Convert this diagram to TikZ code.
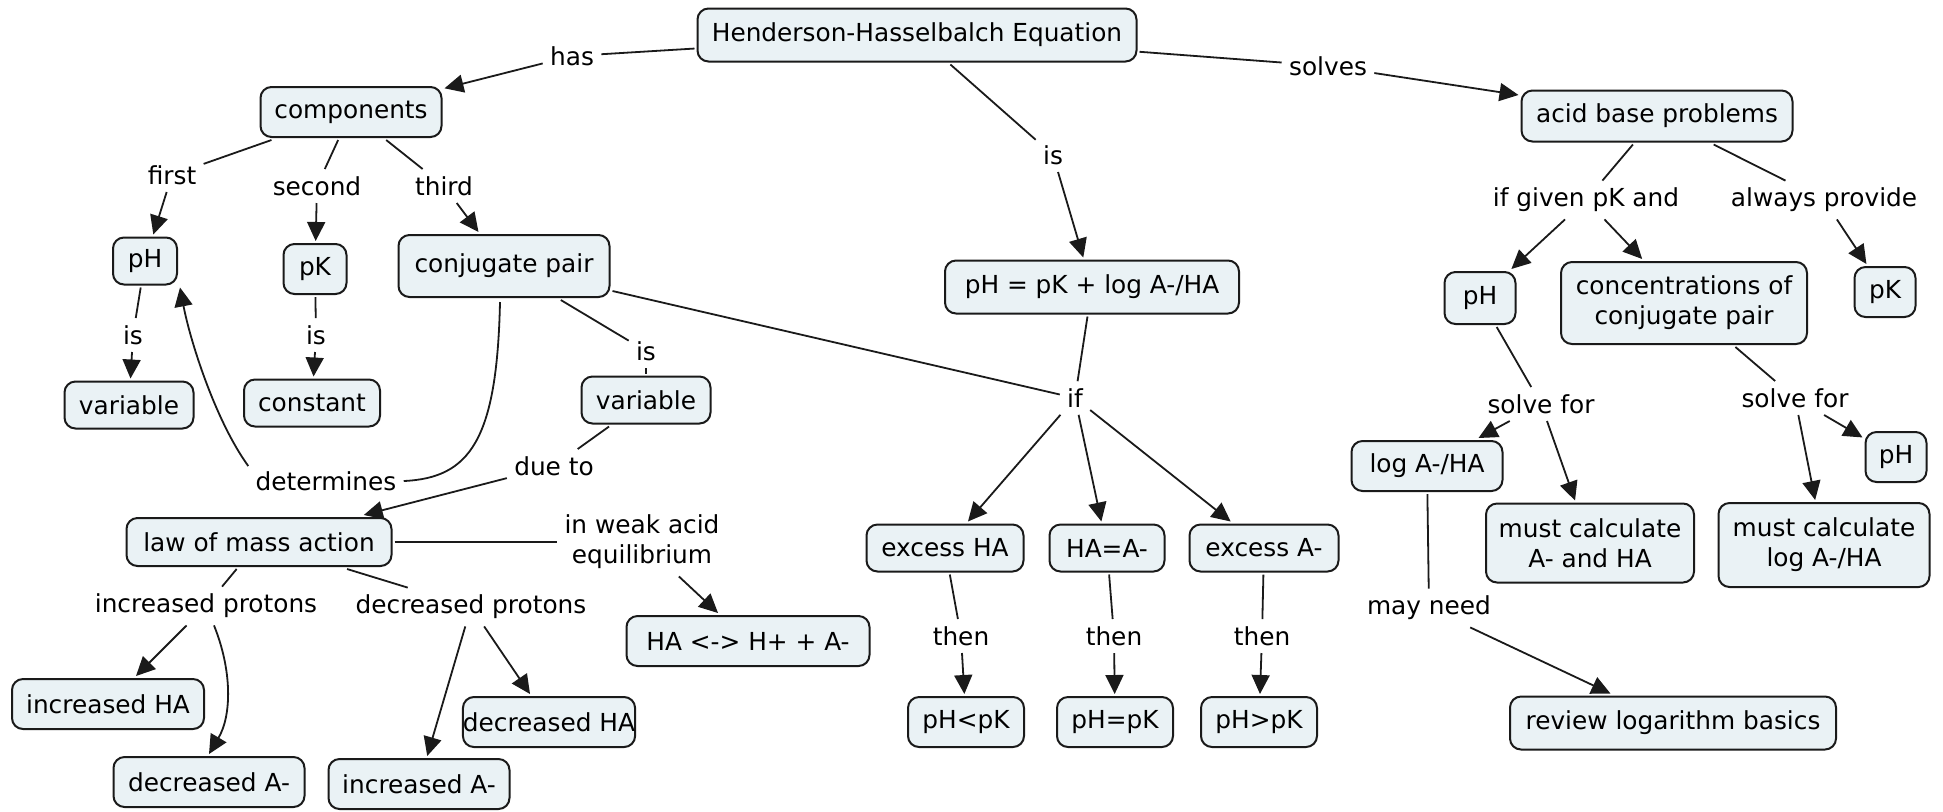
\documentclass[tikz,border=0pt]{standalone}
\usepackage{fontspec}
\setmainfont{DejaVu Sans}
\usetikzlibrary{arrows.meta}
\definecolor{cfill}{HTML}{EAF2F5}
\definecolor{cline}{HTML}{1A1A1A}
\newcommand\hhfont{\fontsize{12.4}{15}\selectfont}
\tikzset{
  concept/.style 2 args={draw=cline, line width=1pt, rounded corners=5.5pt, fill=cfill,
    inner sep=0pt, outer sep=1.5pt, align=center, font=\hhfont,
    minimum width=#1*0.5pt, minimum height=#2*0.5pt},
  lbl/.style={inner sep=3.5pt, align=center, font=\hhfont},
  ln/.style={draw=cline, line width=0.9pt},
  arr/.style={draw=cline, line width=0.9pt, -{Triangle[length=9.5pt,width=9pt]}},
}
\begin{document}
\begin{tikzpicture}[x=0.5pt,y=-0.5pt]
\useasboundingbox[fill=white] (0,0) rectangle (1943,811);
% concepts
\node[concept={439}{53}] (HH) at (917,35) {Henderson-Hasselbalch Equation};
\node[concept={181}{50}] (comp) at (351,112) {components};
\node[concept={64}{47}] (pH1) at (145,261) {pH};
\node[concept={63}{50}] (pK1) at (315,269) {pK};
\node[concept={211}{62}] (conj) at (504,266) {conjugate pair};
\node[concept={129}{47}] (var1) at (129,405) {variable};
\node[concept={136}{47}] (const) at (312,403) {constant};
\node[concept={129}{47}] (var2) at (646,400) {variable};
\node[concept={265}{48}] (law) at (259,542) {law of mass action};
\node[concept={192}{50}] (incHA) at (108,704) {increased HA};
\node[concept={191}{50}] (decA) at (209,782) {decreased A-};
\node[concept={181}{50}] (incA) at (419,784) {increased A-};
\node[concept={169}{50}] (decHA) at (549,722) {decreased HA};
\node[concept={243}{50}] (HAeq) at (748,641) {HA <-> H+ + A-};
\node[concept={294}{53}] (eq) at (1092,287) {pH = pK + log A-/HA};
\node[concept={157}{47}] (exHA) at (945,548) {excess HA};
\node[concept={115}{47}] (HAA) at (1107,548) {HA=A-};
\node[concept={149}{47}] (exA) at (1264,548) {excess A-};
\node[concept={116}{50}] (ltpK) at (966,722) {pH<pK};
\node[concept={116}{50}] (eqpK) at (1115,722) {pH=pK};
\node[concept={116}{50}] (gtpK) at (1259,722) {pH>pK};
\node[concept={271}{51}] (acid) at (1657,116) {acid base problems};
\node[concept={71}{52}] (pH2) at (1480,298) {pH};
\node[concept={246}{82}] (conc) at (1684,303) {concentrations of\\conjugate pair};
\node[concept={61}{50}] (pK2) at (1885,292) {pK};
\node[concept={151}{50}] (logA) at (1427,466) {log A-/HA};
\node[concept={61}{50}] (pH3) at (1896,457) {pH};
\node[concept={208}{79}] (mcA) at (1590,543) {must calculate\\A- and HA};
\node[concept={211}{84}] (mcL) at (1824,545) {must calculate\\log A-/HA};
\node[concept={326}{53}] (review) at (1673,723) {review logarithm basics};
% linking phrases
\node[lbl] (has) at (572,56) {has};
\node[lbl] (solves) at (1328,66) {solves};
\node[lbl] (isEq) at (1053,155) {is};
\node[lbl] (first) at (172,175) {first};
\node[lbl] (second) at (317,186) {second};
\node[lbl] (third) at (444,186) {third};
\node[lbl] (is1) at (133,335) {is};
\node[lbl] (is2) at (316,335) {is};
\node[lbl] (is3) at (646,351) {is};
\node[lbl] (det) at (326,481) {determines};
\node[lbl] (dueto) at (554,466) {due to};
\node[lbl] (weak) at (642,542) {in weak acid\\equilibrium};
\node[lbl] (incp) at (206,606) {increased protons};
\node[lbl] (decp) at (471,607) {decreased protons};
\node[lbl] (if) at (1075,398) {if};
\node[lbl] (then1) at (961,636) {then};
\node[lbl] (then2) at (1114,636) {then};
\node[lbl] (then3) at (1262,636) {then};
\node[lbl] (ifgiven) at (1586,200) {if given pK and};
\node[lbl] (always) at (1824,200) {always provide};
\node[lbl] (solveL) at (1541,404) {solve for};
\node[lbl] (solveR) at (1795,398) {solve for};
\node[lbl] (mayneed) at (1429,608) {may need};
% connectors
\draw[ln] (HH) -- (has);
\draw[arr] (has) -- (comp);
\draw[ln] (HH) -- (solves);
\draw[arr] (solves) -- (acid);
\draw[ln] (HH) -- (isEq);
\draw[arr] (isEq) -- (eq);
\draw[ln] (comp) -- (first);
\draw[arr] (first) -- (pH1);
\draw[ln] (comp) -- (second);
\draw[arr] (second) -- (pK1);
\draw[ln] (comp) -- (third);
\draw[arr] (third) -- (conj);
\draw[ln] (pH1) -- (is1);
\draw[arr] (is1) -- (var1);
\draw[ln] (pK1) -- (is2);
\draw[arr] (is2) -- (const);
\draw[ln] (conj) -- (is3);
\draw[ln] (is3) -- (var2);
\draw[ln] (conj.south) ++(-4,2) .. controls (497,440) and (470,478) .. (det.east);
\draw[arr] (det.north west) ++(0,2) .. controls (215,420) and (190,340) .. (pH1.south east);
\draw[ln] (var2) -- (dueto);
\draw[arr] (dueto) -- (law);
\draw[ln] (conj) -- (if);
\draw[ln] (eq) -- (if);
\draw[arr] (if) -- (exHA);
\draw[arr] (if) -- (HAA);
\draw[arr] (if) -- (exA);
\draw[ln] (exHA) -- (then1);
\draw[arr] (then1) -- (ltpK);
\draw[ln] (HAA) -- (then2);
\draw[arr] (then2) -- (eqpK);
\draw[ln] (exA) -- (then3);
\draw[arr] (then3) -- (gtpK);
\draw[ln] (law) -- (weak);
\draw[arr] (weak) -- (HAeq);
\draw[ln] (law) -- (incp);
\draw[arr] (incp) -- (incHA);
\draw[arr] (incp.south) ++(8,0) .. controls (232,670) and (232,715) .. (decA.north);
\draw[ln] (law) -- (decp);
\draw[arr] (decp) -- (incA);
\draw[arr] (decp) -- (decHA);
\draw[ln] (acid) -- (ifgiven);
\draw[arr] (ifgiven) -- (pH2);
\draw[arr] (ifgiven) -- (conc);
\draw[ln] (acid) -- (always);
\draw[arr] (always) -- (pK2);
\draw[ln] (pH2) -- (solveL);
\draw[arr] (solveL) -- (logA);
\draw[arr] (solveL) -- (mcA);
\draw[ln] (conc) -- (solveR);
\draw[arr] (solveR) -- (mcL);
\draw[arr] (solveR) -- (pH3);
\draw[ln] (logA) -- (mayneed);
\draw[arr] (mayneed) -- (review);
\end{tikzpicture}
\end{document}
